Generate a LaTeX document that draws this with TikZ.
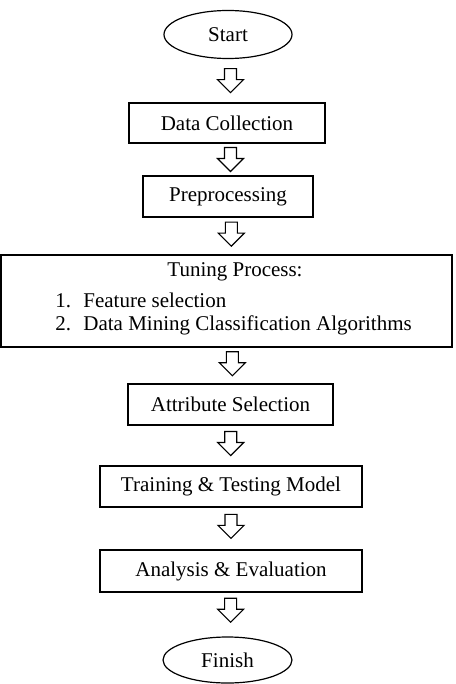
\documentclass[tikz,border=0pt]{standalone}
\usepackage{fontspec}
\setmainfont{Liberation Serif}
\usetikzlibrary{shapes.geometric, positioning}

\tikzset{
    terminal/.style={ellipse, draw, line width=0.6pt, minimum width=64pt, minimum height=24pt, inner sep=0pt},
    stepbox/.style={rectangle, draw, line width=0.75pt, minimum height=20.5pt, inner sep=0pt},
    flowarrow/.pic={
        \draw[line width=0.55pt, line join=miter]
            (-6,-12) -- (6,-12) -- (6,-1) -- (13,-1) -- (0,12) -- (-13,-1) -- (-6,-1) -- cycle;
    },
}

\begin{document}
\begin{tikzpicture}[
    x=0.5pt, y=-0.5pt,
    every node/.style={font=\fontsize{10.5}{12.6}\selectfont},
]
\useasboundingbox (0,0) rectangle (455,684);

% Terminals and steps
\node[terminal] (start) at (228,34.5) {Start};
\node[stepbox, minimum width=98pt, minimum height=20pt] (collect) at (227,123) {Data Collection};
\node[stepbox, minimum width=85pt] (prep) at (228,196.5) {Preprocessing};
\node[stepbox, minimum width=225.5pt, minimum height=46pt] (tuning) at (226.5,301) {};
\node[stepbox, minimum width=102.5pt] (attr) at (230.5,404.5) {Attribute Selection};
\node[stepbox, minimum width=131pt] (train) at (231,486.5) {Training \& Testing Model};
\node[stepbox, minimum width=131pt, minimum height=21pt] (eval) at (231,571) {Analysis \& Evaluation};
\node[terminal, minimum width=64.5pt, minimum height=23pt] (finish) at (227.5,660) {Finish};

% Text of the tuning step
\node (tuntitle) at (235,272) {Tuning Process:};
\node[anchor=west, inner sep=0pt] (tunfeat) at (55,300) {\makebox[14pt][l]{1.}Feature selection};
\node[anchor=west, inner sep=0pt] (tunalgo) at (55,325) {\makebox[14pt][l]{2.}Data Mining Classification Algorithms};

% Hollow arrows between the steps
\path (start.south) -- (collect.north) pic[pos=0.5, xshift=1.5pt] {flowarrow};
\path (collect.south) -- (prep.north) pic[pos=0.5, xshift=1.5pt] {flowarrow};
\path (prep.south) -- (tuning.north) pic[pos=0.45, xshift=2pt] {flowarrow};
\path (tuning.south) -- (attr.north) pic[pos=0.45, xshift=2pt] {flowarrow};
\path (attr.south) -- (train.north) pic[pos=0.45] {flowarrow};
\path (train.south) -- (eval.north) pic[pos=0.45] {flowarrow};
\path (eval.south) -- (finish.north) pic[pos=0.4, xshift=0.5pt] {flowarrow};

\end{tikzpicture}
\end{document}
